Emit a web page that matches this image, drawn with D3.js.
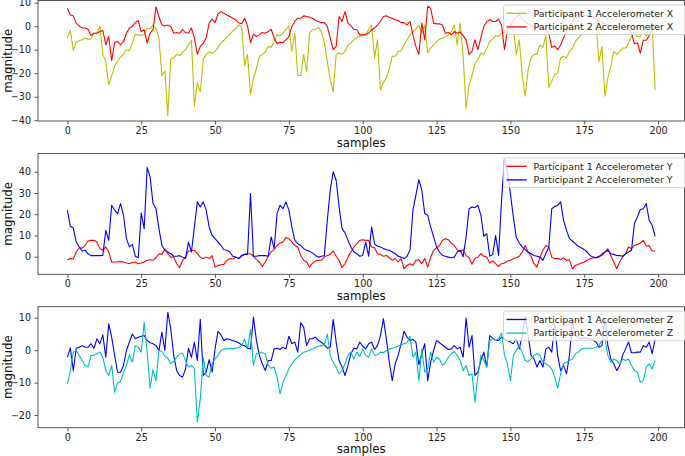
<!DOCTYPE html>
<html><head><meta charset="utf-8">
<script src="https://cdn.jsdelivr.net/npm/d3@7"></script>
<style>html,body{margin:0;padding:0;background:#fff;}svg{display:block;}</style>
</head><body>
<svg id="chart" width="685" height="456"></svg>
<script>
const samples = d3.range(200);
const xTicks = [0, 25, 50, 75, 100, 125, 150, 175, 200];

const p1AccX = [-5,-1.8,-10.3,-6.8,-6.2,-5.8,-5,-5.5,-5.5,-3,-3,0,-12,-15,-25,-21,-17,-15,-13,-12,
-10,-10.5,-7,-3.5,-3.7,-4,-3.5,-1,-1,0.5,-1,-5,-21,-19,-38,-14,-13.5,-12,-12.5,-11,
-10,-8,-6,-34,-24,-28,-14,-12,-11,-11.5,-10.7,-9,-7,-6,-4.5,-3.5,-2,-1,0.5,0,
-16.7,-12,-29,-22,-18,-13,-12,-11,-8.6,-9,-6.5,-3.7,-4,-3,-1.5,0.3,-10.7,-3,-21,-21,
-12,-19.5,-3,-1.5,-1.3,-0.5,-2.3,-7,-15,-22.7,-28,-12,-11.4,-12,-10.7,-8,-7.2,-5.8,-4.8,-4.4,
-4,-3.7,-1.5,0.5,-13.5,-5.8,-27,-24,-22,-17.8,-12.8,-12.8,-10.7,-10.5,-8,-5.8,-3.7,-2.3,-1.3,0.5,
-3,0.5,-11.4,-9.3,-8,-6.5,-5.5,-5,-4.4,-3.7,-2.3,0.5,-8,1.3,-12.8,-35,-25,-21,-15.7,-14.3,
-11.4,-12,-9.3,-6.5,-5.5,-4,-4.4,-3,-2.7,-0.8,0.5,-0.8,-12,-5.8,-20.6,-29.8,-18.5,-13.5,-12,-12,
-8,-9,-4,-26,-23.4,-20.6,-20,-13.5,-12.8,-13.5,-10.7,-9.3,-6.5,-5,-3.7,-2.3,-0.8,-0.1,1.3,0.5,
-15,-8.6,-29.8,-22,-17,-10.7,-12,-10.7,-9.3,-9.3,-7.2,-4.4,-3,-4.4,-4.4,0,-4.4,-2.3,0,-27];

const p2AccX = [7.6,4.8,4.4,1.3,0.1,-0.8,-0.8,-1.3,-4,-3,-3,-2.3,-1.8,-8,-4.4,-14.7,-6.8,-6.5,-8,-6.5,
-3,-0.8,-0.1,1.5,2.4,-2.3,-1.5,-7.2,-3,-1.5,8.3,4,0.5,0.1,0.5,-0.1,-3,-2.7,-3,-1.5,
-2.7,-3,-0.8,-5,-12,-8.6,-7.2,-5,1.3,3,1.5,5.2,6.2,5.5,4.8,4.1,3.4,2.7,1.5,1,
3.4,0.1,-7,-3.4,-4.4,-3.7,-2.7,-3,-2.3,-1.3,-5,-7.5,-6.8,-7,-5.8,-4.4,-0.1,2,3.4,3.4,
4.4,4.1,3.8,3.4,2.4,2,1.5,1.5,-0.1,-5,-10,-8.6,4.1,2,6.2,1.3,0.1,-1.3,-1.5,-3.7,
-3.7,-3.4,-3,-1.5,-0.8,0.5,2,4.1,4.4,3.8,3.4,2.7,2.4,1.5,1.5,0.5,2,-3.7,-8.6,-12,
1.3,-5.8,8.6,7.6,1.3,1,1,0.5,-3,-2.7,-3.7,-2.3,-3,-2.5,-4,-5.8,-12,-10.7,-5.8,-10,
-5,-0.1,2,2.7,2,2,3,0.5,-10,-1.5,-0.1,2.7,4,5,3,2,1,0.5,0,-0.5,
0,-1,-1.5,-3,-9,-8.5,-10,-8,-5,-2,0,2,4,5.5,5,4.5,4.5,4,4,3,
2,1.5,1,0.5,0,0.5,0,-0.5,0.5,0,-1,-3,-7.5,-7,-11.5,-6,-6,-4,-1.5,1];

const p1AccY = [-1.4,-0.9,-1.1,2.2,4.1,4.1,5.3,7.4,7.7,7.7,6.9,3.8,3,4.6,2.2,-2.5,-2.5,-2.5,-2.2,-2.5,
-3,-3.3,-2.7,-2.5,-3.3,-3,-2.5,-1.7,-1.4,-1.7,-0.5,1.4,1.1,3.6,1.4,-0.2,-0.2,-3.3,-5.2,-1.7,
-0.2,2.7,2.7,3,1.4,-0.2,-0.9,-0.2,-0.9,0.5,-4.9,-4.1,-3.8,-3.6,-1.7,-0.9,-1.1,-0.2,-0.9,0.2,
1.1,1.4,1.4,0.2,-1.4,-2.5,-4.6,-2.5,0.2,2.2,3.3,5.3,6.4,6.9,9,8.5,6.9,5.3,4.6,0.6,
-1.7,-2.5,-4.9,-3,-2,-1.7,-1.7,-0.2,0.6,1.1,2.7,0.2,-1.7,-5.2,-3.3,-0.2,2.2,4.6,6.1,7.7,
8,7.7,7.7,4.6,4.2,1.4,1.1,0.2,0.6,-0.5,-1.7,-0.9,-2.5,-0.9,-5.7,-4.1,-3.3,-4.1,-1.7,-1.4,
-3.3,-0.9,-4.9,-0.2,3,4.2,5.3,7.7,8.5,8,6.4,5.3,3.3,2.7,3.3,0.6,-0.5,-3.6,-0.9,-0.2,
1.4,0.2,-0.2,-3,-2,-3.3,-4.6,-3.3,-3,-2,-1.7,-0.9,-0.5,0.2,2.2,5.3,2.2,0.2,-3.3,-4.9,
-0.2,3,5.3,4.6,-0.2,-0.9,-0.9,-1.4,-0.5,-1.7,-1.4,-5.7,-4.1,-3.6,-3,-2.5,-1.7,-0.9,-0.5,-0.5,
-0.2,1.4,2.2,3.8,0.6,-2.5,-5.7,-2.5,-0.2,1.4,4.6,3.8,5.3,5.8,6.4,7.7,4.9,5.3,2.7,2.7];

const p2AccY = [21.9,14.3,13.5,6.9,4.6,2.7,3,1.4,0.5,0.5,0.5,0.5,0.6,12.4,7.7,24.2,21.9,20.3,25,19.5,
8.5,4.6,5.8,0.2,-0.5,20.6,13.2,42,37.6,25,22.6,13.2,5.3,3,2.2,1.4,0.2,0.2,0.5,-0.2,
-0.9,6.9,2.2,14,25.8,23.4,25.8,21.9,14,10,8.5,6.9,5.3,3.3,3,2.2,0.2,-0.2,-0.9,0.6,
1.1,1.1,29.7,0.2,0.2,0.5,0.6,0.5,0.2,9.3,3.8,20.3,24.2,22.6,25.8,21.9,14,7.7,6.1,5.3,
3.8,3,2.5,1.7,0.6,-0.2,0.2,0.5,17.1,31.3,40,36,23.4,13.2,11.2,7.7,4.6,2.2,1.4,0.2,
0.6,6.9,0.2,14,6.1,4.9,4.6,3.8,3.3,3,2.2,1.4,0.2,-0.2,-0.9,0.2,3,21.9,29,36.3,
31.3,20.3,19.5,14,9.3,4.6,2.2,0.6,0.2,-0.2,-0.5,-0.2,2.2,3,0,9.3,22.6,23.4,23.1,24.2,
19.5,9.6,10.8,0.2,1.1,10,0.6,26.6,46,40,29.7,18.7,9,6.4,4.6,3.3,2.2,1.4,0.6,0.2,
-0.2,-1.7,1.4,4.6,22.6,23.7,24.2,25.8,17.1,12.4,8.5,7.4,6.1,4.9,4.2,3.3,2.2,0.6,-0.2,-0.5,
0.2,0.6,2.2,3,1.4,1.1,0.6,0.5,0.2,1.4,2.2,3,15.6,18.7,22.2,22.6,25,17.1,14.8,9.6];

const p1AccZ = [-2.2,0.7,-6.3,0.6,0.9,1.4,0.9,0.9,2,0.6,3.5,2,4.7,-2.2,8.1,4,-1.6,-6.8,-6.8,-4.7,
-0.1,2.5,5,3.5,4,4.3,4.5,3,2.3,2,1.4,-0.1,5.6,-0.1,11.7,6.6,-1.6,-6.3,-7.8,-8.3,
-5.8,0.6,-2.2,2.5,-3.2,9.5,-7.8,-6.8,-2.9,-6.8,0.4,5.8,4.7,3,3.5,3.3,3,2.7,2.3,1.6,
1.4,0.6,0.4,10.2,3,-1.6,-4.2,-6.3,-3.2,-3.2,0.4,0.6,0.2,0.9,0.4,4.3,2,2.5,-0.6,8.4,
7.1,1.4,3.5,3.5,4,3,2.5,1.6,0.6,0.9,9.5,2.5,-3.2,-5.2,-7.8,-4.7,-1.1,0.6,0.4,2.5,
1.2,0.4,2,2.5,0.2,1.4,4.5,9.7,3.5,-3.7,-9.4,-4.2,-1.6,2,5.8,4,3,3.3,2.5,-4.5,
-1.1,2,-9.4,-3.7,-0.1,3,2.3,1.6,0.9,0.2,0.4,1.4,0.4,0.9,-2.2,9.9,0.9,4.5,-7.8,-6.8,
-3.2,-0.6,-5.2,4.5,3.7,3,3,4,3.5,3,2.5,2,3.5,0.4,4.5,10.7,4.5,-1.6,-2.7,-5.2,
-3.2,-5.2,0.4,0.9,-0.6,8.1,-1.6,-6.3,-4.7,-7.3,-1.6,9.2,4.5,4,3.5,4,3.5,3.5,3,2.5,
0.9,1.4,9.7,1.4,-2.7,-4.2,-6.3,-4.7,-1.6,0.4,2.5,-0.8,-0.8,-0.6,-0.6,1.4,0.9,2.5,-1.1,3.5];

const p2AccZ = [-10.4,-6.3,-0.6,-0.1,-1.6,-3.2,-4.7,-5.2,-1.6,-1.6,-1.1,-0.6,-2.2,-6.3,-7.8,-4.7,-13,-10.1,-9.7,-6.8,
-4.7,-1.4,-3.7,1.4,0.9,-0.6,8.6,-0.6,-11.7,-6,-9.4,-0.1,-0.4,-1.9,-2.5,-4.2,-3.5,-2.2,-1.1,-0.9,
-3.2,-5.2,-4.7,-5.8,-22.2,-15,-2.2,-7.8,-8.3,-4.2,-2.7,-1.6,-0.1,0.4,0.4,0.6,0.4,0.6,0.8,1.4,
3.5,0.4,6.4,-4.7,-1.1,-0.8,-0.8,-1.1,-4.7,-5.6,-5.2,-8.3,-13.5,-9.9,-7.8,-5.8,-4.2,-3,-2.2,-1.4,
-0.6,-0.4,-0.1,0.4,0.9,1.2,1.4,1.6,5,-1.6,-3.7,-5.2,-7.3,-6.3,-4.2,-1.6,-0.6,-2.7,-0.6,-1.9,
0.4,-1.6,-2.2,0.4,-1.6,-1.4,-0.6,-0.8,-0.1,0.4,0.6,0.9,1.2,1.6,2,2.3,4.3,-2.2,-0.6,-9.4,
0.4,-6.8,-5.8,-0.6,-3.7,-2.2,-2.7,-4.7,-3.7,-2.2,-1.1,-0.4,-1.6,-3.2,-6.3,-4.7,-7.8,-7.3,-16,-7.8,
-1.6,-3.2,-5.2,3,3.5,3,3.5,5.3,-1.6,-4.2,-9.4,-1.6,-0.1,1.4,-0.6,-3.2,-3.5,-2.7,-1.6,-1.1,
-1.6,-3.7,-4.2,-4.7,-5.8,-8.3,-11.7,-7.3,-4.2,-3.7,-3.2,-2.7,-1.1,-0.6,0.4,0.6,0.6,0.6,0.6,0.9,
1.4,3,3.5,-1.6,-3.7,-2.7,-3.2,-4.2,-2.7,-3.2,-2.7,-4.7,-6.3,-6.8,-9.9,-9.4,-5.2,-4.2,-5.8,-3.2];

const yTicksX = [-40, -30, -20, -10, 0, 10];
const yTicksY = [0, 10, 20, 30, 40];
const yTicksZ = [-20, -10, 0, 10];

const labelsX = ["Participant 1 Accelerometer X", "Participant 2 Accelerometer X"];
const labelsY = ["Participant 1 Accelerometer Y", "Participant 2 Accelerometer Y"];
const labelsZ = ["Participant 1 Accelerometer Z", "Participant 2 Accelerometer Z"];

const colorsX = ["#bfbf00", "#ff0000"];
const colorsY = ["#ff0000", "#0000ff"];
const colorsZ = ["#0000ff", "#00bfbf"];

const panels = [
  {series: [p1AccX, p2AccX], labels: labelsX, colors: colorsX, ticks: yTicksX, top: 0.5, bottom: 121},
  {series: [p1AccY, p2AccY], labels: labelsY, colors: colorsY, ticks: yTicksY, top: 153.5, bottom: 274.3},
  {series: [p1AccZ, p2AccZ], labels: labelsZ, colors: colorsZ, ticks: yTicksZ, top: 306.7, bottom: 427.7}
];

const svg = d3.select("#chart");
const left = 38, right = 684.5;
const font = "DejaVu Sans, sans-serif";
const axisColor = "#444";

const x = d3.scaleLinear().domain([-9.95, 208.95]).range([left, right]);
const fmt = d3.format("");

panels.forEach((p, pi) => {
  const all = p.series.flat();
  const [mn, mx] = d3.extent(all);
  const pad = (mx - mn) * 0.05;
  const y = d3.scaleLinear().domain([mn - pad, mx + pad]).range([p.bottom, p.top]);
  const g = svg.append("g");

  const clipId = "clip" + pi;
  svg.append("clipPath").attr("id", clipId).append("rect")
    .attr("x", left).attr("y", p.top).attr("width", right - left).attr("height", p.bottom - p.top);

  const line = d3.line().x((d, i) => x(samples[i])).y(d => y(d));
  const lg = g.append("g").attr("clip-path", `url(#${clipId})`);
  p.series.forEach((s, si) => {
    lg.append("path").datum(s).attr("d", line)
      .attr("fill", "none").attr("stroke", p.colors[si]).attr("stroke-width", 1.1)
      .attr("stroke-linejoin", "round");
  });

  // spines
  g.append("rect").attr("x", left).attr("y", p.top).attr("width", right - left).attr("height", p.bottom - p.top)
    .attr("fill", "none").attr("stroke", axisColor).attr("stroke-width", 0.9);

  // x axis
  const xa = g.append("g").attr("transform", `translate(0,${p.bottom})`)
    .call(d3.axisBottom(x).tickValues(xTicks).tickSize(3.5).tickPadding(2.5).tickFormat(fmt));
  xa.select(".domain").remove();
  xa.selectAll("line").attr("stroke", axisColor).attr("stroke-width", 0.9);
  xa.selectAll("text").attr("font-family", font).attr("font-size", "9.6px").attr("fill", "#222");

  // y axis
  const ya = g.append("g").attr("transform", `translate(${left},0)`)
    .call(d3.axisLeft(y).tickValues(p.ticks).tickSize(3.5).tickPadding(3.5).tickFormat(d3.format("")));
  ya.select(".domain").remove();
  ya.selectAll("line").attr("stroke", axisColor).attr("stroke-width", 0.9);
  ya.selectAll("text").attr("font-family", font).attr("font-size", "9.6px").attr("fill", "#222");

  // labels
  g.append("text").attr("x", (left + right) / 2).attr("y", p.bottom + 25.5)
    .attr("text-anchor", "middle").attr("font-family", font).attr("font-size", "11.8px").attr("fill", "#111")
    .text("samples");
  g.append("text").attr("transform", `translate(11.5,${(p.top + p.bottom) / 2}) rotate(-90)`)
    .attr("text-anchor", "middle").attr("font-family", font).attr("font-size", "11.8px").attr("fill", "#111")
    .text("magnitude");

  // legend
  const lgX = 503.5, lgY = p.top + 4.5;
  const leg = g.append("g").attr("transform", `translate(${lgX},${lgY})`);
  leg.append("rect").attr("x", 0).attr("y", 0).attr("width", 183).attr("height", 29.5)
    .attr("rx", 2.5).attr("fill", "#fff").attr("fill-opacity", 0.8)
    .attr("stroke", "#cccccc").attr("stroke-width", 0.8);
  p.labels.forEach((lab, li) => {
    const cy = 8.3 + li * 13.6;
    leg.append("line").attr("x1", 3).attr("x2", 23).attr("y1", cy).attr("y2", cy)
      .attr("stroke", p.colors[li]).attr("stroke-width", 1.3);
    leg.append("text").attr("x", 30).attr("y", cy).attr("dy", "0.35em")
      .attr("font-family", font).attr("font-size", "9.4px").attr("fill", "#222").text(lab);
  });
});
</script>
</body></html>
